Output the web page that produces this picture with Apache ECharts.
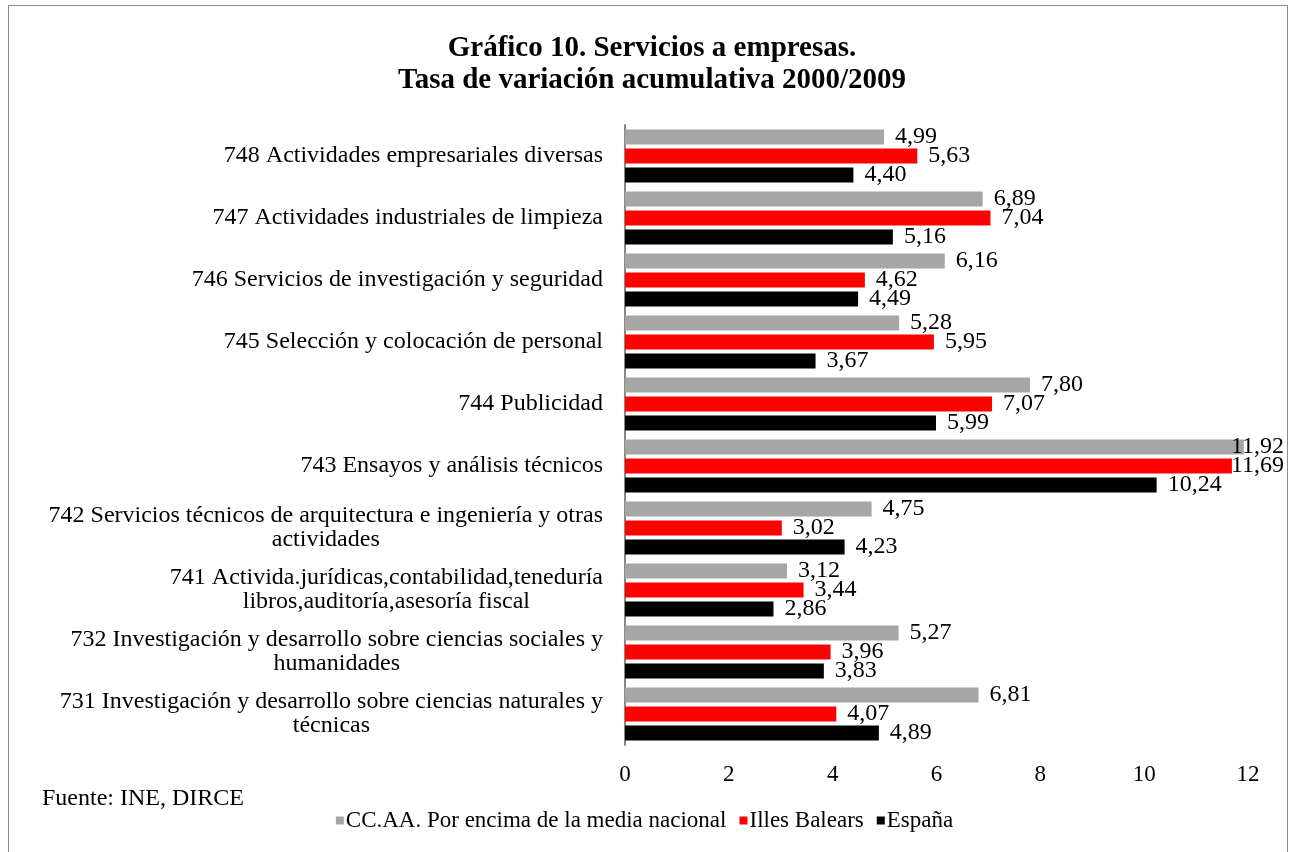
<!DOCTYPE html>
<html>
<head>
<meta charset="utf-8">
<script src="https://cdn.jsdelivr.net/npm/echarts@6/dist/echarts.min.js"></script>
<style>
  html, body { margin: 0; padding: 0; background: #fff; }
  #frame { position: absolute; left: 8px; top: 5px; width: 1278px; height: 900px; border: 1px solid #8c8c8c; }
  #chart { position: absolute; left: 0; top: 0; width: 1289px; height: 852px; }
</style>
</head>
<body>
<div id="frame"></div>
<div id="chart"></div>
<script>
// categories, top to bottom
const categories = [
  "748 Actividades empresariales diversas",
  "747 Actividades industriales de limpieza",
  "746 Servicios de investigación y seguridad",
  "745 Selección y colocación de personal",
  "744 Publicidad",
  "743 Ensayos y análisis técnicos",
  "742 Servicios técnicos de arquitectura e ingeniería y otras\nactividades",
  "741 Activida.jurídicas,contabilidad,teneduría\nlibros,auditoría,asesoría fiscal",
  "732 Investigación y desarrollo sobre ciencias sociales y\nhumanidades",
  "731 Investigación y desarrollo sobre ciencias naturales y\ntécnicas"
];
const ccaa = [4.99, 6.89, 6.16, 5.28, 7.80, 11.92, 4.75, 3.12, 5.27, 6.81];
const balears = [5.63, 7.04, 4.62, 5.95, 7.07, 11.69, 3.02, 3.44, 3.96, 4.07];
const espana = [4.40, 5.16, 4.49, 3.67, 5.99, 10.24, 4.23, 2.86, 3.83, 4.89];
const seriesNames = ["CC.AA. Por encima de la media nacional", "Illes Balears", "España"];
const colors = ["#a6a6a6", "#ff0000", "#000000"];
const xTicks = [0, 12, 2]; // min, max, interval

const font = "Liberation Serif";
const chart = echarts.init(document.getElementById("chart"));

function makeSeries(name, data, color) {
  return {
    name: name,
    type: "bar",
    data: data,
    barWidth: 15,
    barGap: "27%",
    itemStyle: { color: color },
    label: {
      show: true,
      position: "right",
      distance: 11,
      offset: [0, 3],
      color: "#000",
      fontFamily: font,
      fontSize: 24,
      formatter: (p) => p.value.toFixed(2).replace(".", ",")
    },
    // keep labels of the longest bars inside the frame
    labelLayout: (p) => {
      const r = p.labelRect;
      const over = r.x + r.width - 1284;
      return over > 0 ? { dx: -over } : {};
    }
  };
}

const option = {
  animation: false,
  textStyle: { fontFamily: font },
  title: {
    text: "Gráfico 10. Servicios a empresas.\nTasa de variación acumulativa 2000/2009",
    left: 647,
    top: 28,
    textAlign: "center",
    textStyle: { fontFamily: font, fontSize: 29, fontWeight: "bold", color: "#000", lineHeight: 32 }
  },
  legend: {
    bottom: 15,
    left: "center",
    icon: "rect",
    itemWidth: 8,
    itemHeight: 8,
    itemGap: 13,
    textStyle: { fontFamily: font, fontSize: 23, color: "#000", padding: [0, 0, 0, -3] },
    data: seriesNames
  },
  graphic: [{
    type: "text",
    left: 42,
    top: 787,
    style: { text: "Fuente: INE, DIRCE", fontFamily: font, fontSize: 24, fill: "#000" }
  }],
  grid: { left: 625, right: 41, top: 125, bottom: 107 },
  xAxis: {
    type: "value",
    min: xTicks[0],
    max: xTicks[1],
    interval: xTicks[2],
    splitLine: { show: false },
    axisLine: { show: false },
    axisTick: { show: false },
    axisLabel: { color: "#000", fontFamily: font, fontSize: 23, margin: 18 }
  },
  yAxis: {
    type: "category",
    inverse: true,
    data: categories,
    axisLine: { show: true, lineStyle: { color: "#888", width: 2 } },
    axisTick: { show: false },
    axisLabel: {
      color: "#000",
      fontFamily: font,
      fontSize: 24,
      margin: 22,
      lineHeight: 24,
      formatter: (v) => v.split("\n").map((l) => "{c|" + l + "}").join("\n"),
      rich: { c: { align: "center", fontFamily: font, fontSize: 24, color: "#000", lineHeight: 24 } }
    }
  },
  series: [
    makeSeries(seriesNames[0], ccaa, colors[0]),
    makeSeries(seriesNames[1], balears, colors[1]),
    makeSeries(seriesNames[2], espana, colors[2])
  ]
};

chart.setOption(option);
</script>
</body>
</html>
